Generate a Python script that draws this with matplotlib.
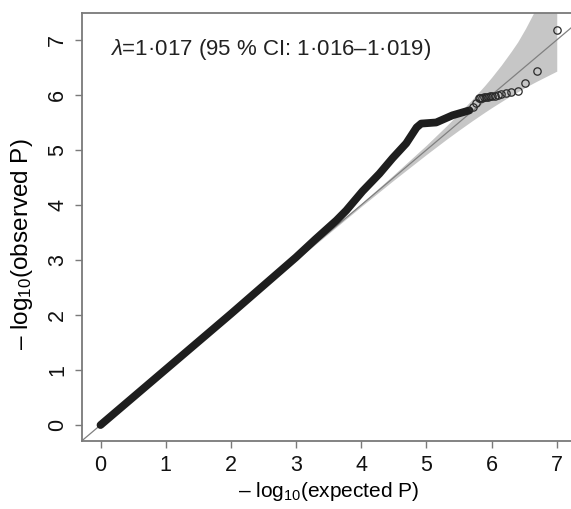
import matplotlib
matplotlib.use("Agg")
import matplotlib.pyplot as plt
import numpy as np

plt.rcParams['font.family'] = ['Liberation Sans', 'DejaVu Sans']
plt.rcParams['mathtext.fontset'] = 'custom'
plt.rcParams['mathtext.rm'] = 'Liberation Sans'
plt.rcParams['mathtext.it'] = 'Liberation Sans:italic'
plt.rcParams['mathtext.bf'] = 'Liberation Sans:bold'

# ---- data ----
# dense body of the QQ curve (expected, observed)
body_expected = [0.0, 1.0, 2.0, 3.0, 3.3, 3.62, 3.77, 4.02, 4.28, 4.48, 4.69, 4.85, 4.92, 5.15, 5.40, 5.66]
body_observed = [0.0, 1.01, 2.02, 3.05, 3.38, 3.72, 3.90, 4.25, 4.57, 4.85, 5.12, 5.41, 5.48, 5.50, 5.63, 5.72]

# individual points in the tail
tail_expected = [5.72, 5.76, 5.80, 5.83, 5.86, 5.89, 5.92, 5.95, 5.98, 6.01, 6.05, 6.10, 6.15, 6.22, 6.30, 6.40, 6.52, 6.70, 7.00]
tail_observed = [5.78, 5.85, 5.94, 5.95, 5.95, 5.96, 5.96, 5.97, 5.98, 5.98, 5.99, 6.00, 6.01, 6.03, 6.05, 6.07, 6.21, 6.43, 7.19]

# 95% confidence band
ci_expected = [0.0, 2.0, 3.0, 4.0, 4.5, 5.0, 5.3, 5.5, 5.7, 5.9, 6.0, 6.15, 6.3, 6.4, 6.52, 6.7, 7.0]
ci_upper = [0.0, 2.002, 3.009, 4.027, 4.55, 5.088, 5.43, 5.667, 5.915, 6.179, 6.32, 6.545, 6.79, 6.963, 7.208, 7.616, 8.597]
ci_lower = [0.0, 1.998, 2.991, 3.973, 4.453, 4.918, 5.188, 5.361, 5.529, 5.690, 5.768, 5.880, 5.990, 6.057, 6.141, 6.254, 6.433]

x_ticks = [0, 1, 2, 3, 4, 5, 6, 7]
y_ticks = [0, 1, 2, 3, 4, 5, 6, 7]

annotation = r'$\lambda$=1·017 (95 % CI: 1·016–1·019)'
x_label = '– log$_{10}$(expected P)'
y_label = '– log$_{10}$(observed P)'

# ---- figure ----
fig = plt.figure(figsize=(5.71, 5.09), dpi=100)
ax = fig.add_axes([82/571, (509-441)/509, (575-82)/571, (441-13)/509])

ax.fill_between(ci_expected, ci_lower, ci_upper, color='#c6c6c6', linewidth=0, zorder=1)
ax.axline((0, 0), slope=1, color='#808080', linewidth=0.9, zorder=2)

ax.plot(body_expected, body_observed, color='#1e1e1e', linewidth=5.6,
        solid_capstyle='round', solid_joinstyle='round', zorder=3)
ax.plot(tail_expected, tail_observed, linestyle='none', marker='o', markersize=5.3,
        markerfacecolor='none', markeredgecolor='#2a2a2a', markeredgewidth=0.9, zorder=4)

ax.set_xlim(-0.284, 7.28)
ax.set_ylim(-0.29, 7.49)
ax.set_xticks(x_ticks)
ax.set_yticks(y_ticks)
ax.set_xticklabels([str(t) for t in x_ticks])
ax.set_yticklabels([str(t) for t in y_ticks], rotation=90, va='center')

for s in ax.spines.values():
    s.set_color('#7a7a7a')
    s.set_linewidth(1.3)
ax.tick_params(axis='both', direction='out', length=5, width=1.0, color='#7a7a7a',
               labelsize=15.5, labelcolor='#111111', pad=5)

ax.set_xlabel(x_label, fontsize=15, labelpad=3)
ax.set_ylabel(y_label, fontsize=17.5)
ax.yaxis.set_label_coords(-0.095, 0.46)

ax.text(0.15, 6.82, annotation, fontsize=16, color='#222222', ha='left', va='center')

fig.savefig('out.png', dpi=100)
